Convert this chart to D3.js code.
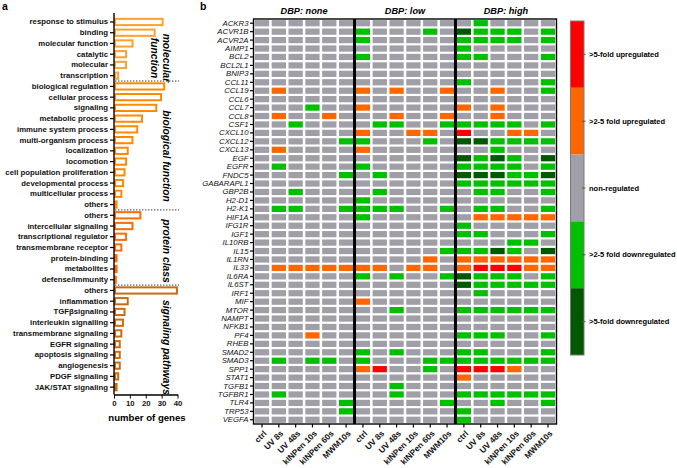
<!DOCTYPE html>
<html>
<head>
<meta charset="utf-8">
<script src="https://cdn.jsdelivr.net/npm/d3@7"></script>
<style>
body { margin: 0; background: #fff; }
svg { font-family: "Liberation Sans", Arial, sans-serif; }
</style>
</head>
<body>
<svg id="chart" width="677" height="468"></svg>
<script>
// ---- panel a: gene classes ----
const go_categories = [
   'response to stimulus', 'binding', 'molecular function', 'catalytic', 'molecular', 'transcription',
   'biological regulation', 'cellular process', 'signaling', 'metabolic process', 'immune system process',
   'multi-organism process', 'localization', 'locomotion', 'cell population proliferation',
   'developmental process', 'multicellular process', 'others',
   'others', 'intercellular signaling', 'transcriptional regulator', 'transmembrane receptor',
   'protein-binding', 'metabolites', 'defense/immunity',
   'others', 'inflammation', 'TGFβsignaling', 'interleukin signalling', 'transmembrane signaling',
   'EGFR signaling', 'apoptosis signaling', 'angiogenesis', 'PDGF signaling', 'JAK/STAT signaling'
];
const go_counts = [
   30, 25, 11, 7, 7, 2,
   31, 29, 26, 17, 14, 11, 8, 7, 6, 5, 4, 1,
   16, 11, 7, 4, 1, 1, 0.5,
   39, 8, 6, 5, 4, 3, 3, 3, 2, 1
];
const go_group_of = [
   0, 0, 0, 0, 0, 0,
   1, 1, 1, 1, 1, 1, 1, 1, 1, 1, 1, 1,
   2, 2, 2, 2, 2, 2, 2,
   3, 3, 3, 3, 3, 3, 3, 3, 3, 3
];
const go_group_labels = [['molecular', 'function'], ['biological function'], ['protein class'], ['signaling pathways']];
const go_group_colors = ['#ffa030', '#ff8a00', '#ff6c00', '#cc6a10'];
const count_ticks = [0, 10, 20, 30, 40];

// ---- panel b: regulation heat map ----
const genes = [
   'ACKR3', 'ACVR1B', 'ACVR2A', 'AIMP1', 'BCL2', 'BCL2L1', 'BNIP3', 'CCL11', 'CCL19', 'CCL6',
   'CCL7', 'CCL8', 'CSF1', 'CXCL10', 'CXCL12', 'CXCL13', 'EGF', 'EGFR', 'FNDC5', 'GABARAPL1',
   'GBP2B', 'H2-D1', 'H2-K1', 'HIF1A', 'IFG1R', 'IGF1', 'IL10RB', 'IL15', 'IL1RN', 'IL33',
   'IL6RA', 'IL6ST', 'IRF1', 'MIF', 'MTOR', 'NAMPT', 'NFKB1', 'PF4', 'RHEB', 'SMAD2',
   'SMAD3', 'SPP1', 'STAT1', 'TGFB1', 'TGFBR1', 'TLR4', 'TRP53', 'VEGFA'
];
const dbp_levels = ['none', 'low', 'high'];
const treatments = ['ctrl', 'UV 8s', 'UV 48s', 'kINPen 10s', 'kINPen 60s', 'MWM10s'];

// 2 = >5-fold up, 1 = 2-5 fold up, 0 = non-regulated, -1 = 2-5 fold down, -2 = >5-fold down
const regulation_none = [
   [0,0,0,0,0,0],[0,0,0,0,0,0],[0,0,0,0,0,0],[0,0,0,0,0,0],[0,0,0,0,0,0],
   [0,0,0,0,0,0],[0,0,0,0,0,0],[0,0,0,0,0,0],[0,1,0,0,0,0],[0,0,0,0,0,0],
   [0,0,0,-1,0,0],[0,1,0,0,1,0],[0,0,-1,0,0,0],[0,0,0,0,0,0],[0,0,0,0,0,-1],
   [0,1,0,0,0,0],[0,0,0,0,0,0],[0,-1,0,0,0,0],[0,0,0,0,0,-1],[0,0,0,0,0,0],
   [0,0,-1,0,0,0],[0,0,0,0,0,0],[0,-1,-1,0,0,-1],[0,0,0,0,0,0],[0,0,0,0,0,0],
   [0,0,0,0,0,0],[0,0,0,0,0,0],[0,0,0,0,0,0],[0,0,0,0,0,0],[0,1,1,1,1,1],
   [0,0,0,0,0,0],[0,0,0,0,0,0],[0,0,0,0,0,0],[0,0,0,0,0,0],[0,0,0,0,0,0],
   [0,0,0,0,0,0],[0,0,0,0,0,0],[0,0,0,1,0,0],[0,0,0,0,0,0],[0,0,0,0,0,0],
   [0,-1,0,-1,-1,0],[0,0,0,0,0,0],[0,0,0,0,0,0],[0,0,0,0,0,0],[0,-1,0,0,0,0],
   [0,0,0,0,0,-1],[0,0,0,0,0,-1],[0,0,0,0,0,0]
];
const regulation_low = [
   [0,0,0,0,0,0],[-1,0,0,0,-1,0],[-1,0,0,0,0,0],[0,0,0,0,0,0],[-1,0,0,0,0,0],
   [0,0,0,0,0,0],[0,0,0,0,0,0],[0,0,0,0,0,0],[1,0,1,0,0,1],[0,0,0,0,0,0],
   [1,0,0,0,0,0],[0,0,1,0,0,1],[0,-1,-1,0,0,-1],[1,0,0,1,1,0],[-1,0,0,0,-1,0],
   [1,0,0,0,0,0],[0,0,0,0,0,0],[-1,0,0,0,0,0],[0,-1,0,0,0,0],[0,0,0,0,0,0],
   [0,-1,0,0,0,0],[-1,0,0,0,0,0],[-1,-1,-1,0,0,-1],[-1,0,0,0,0,0],[0,0,0,0,0,0],
   [0,0,0,0,0,0],[0,0,0,0,0,0],[0,0,0,0,0,-1],[0,0,0,0,1,0],[1,1,0,1,1,0],
   [-1,0,-1,0,0,-1],[0,0,0,0,0,0],[0,0,0,0,0,0],[1,0,0,0,0,0],[0,0,-1,0,0,0],
   [0,0,0,0,0,0],[0,0,0,0,0,0],[0,0,0,0,0,0],[0,0,0,0,0,0],[-1,0,-1,0,0,0],
   [-1,0,0,0,-1,-1],[1,2,0,0,-1,0],[0,0,0,0,0,0],[0,0,-1,0,0,0],[0,0,-1,0,0,0],
   [0,0,0,0,0,-1],[0,0,0,0,0,0],[0,0,0,0,0,0]
];
const regulation_high = [
   [0,-1,0,0,0,0],[-2,-1,-1,-1,0,-1],[-1,-1,-1,-1,0,-1],[-1,0,0,0,0,0],[-1,-1,0,0,0,-1],
   [0,0,0,0,0,0],[0,0,0,0,0,0],[-1,0,0,0,0,-1],[0,0,1,0,0,-1],[0,0,0,0,0,0],
   [1,0,1,0,0,0],[0,0,1,0,0,0],[-1,-1,-1,-1,0,-1],[2,0,0,1,1,0],[-2,-2,-1,-1,-1,-1],
   [0,0,-1,0,0,0],[-2,-1,-2,-1,0,-2],[-1,-1,-1,-1,0,-1],[-2,-2,-2,-1,-1,-2],[-1,-1,-1,-1,-1,-1],
   [0,-1,-1,0,0,-1],[0,0,0,0,0,0],[0,-1,-1,0,0,-1],[0,1,1,1,1,1],[-1,0,0,0,0,0],
   [-1,-1,0,0,0,-1],[0,0,0,-1,-1,0],[-1,-1,-2,-1,0,-2],[1,1,1,1,1,1],[1,2,2,2,1,1],
   [-2,-1,-1,-1,0,-1],[-2,-1,-1,-1,-1,-1],[0,-1,0,0,0,0],[0,0,0,0,0,0],[-1,-1,-1,-1,-1,-1],
   [0,0,0,0,0,0],[0,0,0,0,0,0],[-1,-1,-1,0,0,-1],[0,0,0,0,0,0],[-1,-1,0,0,0,-1],
   [-1,-1,-1,-1,-1,-1],[2,2,2,1,0,0],[1,0,0,0,0,0],[0,0,0,0,0,0],[-1,-1,-1,-1,-1,-1],
   [0,0,-1,0,0,-1],[-1,0,0,0,0,0],[-1,0,0,0,0,0]
];
const regulation_levels = [2, 1, 0, -1, -2];
const regulation_labels = ['>5-fold upregulated', '>2-5 fold upregulated', 'non-regulated',
   '>2-5 fold downregulated', '>5-fold downregulated'];
const regulation_colors = ['#ff0000', '#ff6600', '#a09fa7', '#00c000', '#005800'];

const svg = d3.select('#chart');

// ================= panel a =================
function draw_panel_a() {
   const x = d3.scaleLinear().domain([0, 40]).range([114, 177.5]);
   const y = d3.scaleBand().domain(d3.range(go_categories.length)).range([16.6, 392.5]).paddingInner(0.42).paddingOuter(0.21);
   const g = svg.append('g').attr('class', 'panel-a');

   g.append('text').attr('x', 2).attr('y', 10).text('a')
      .style('font-weight', 'bold').style('font-size', '10.5px');

   // hollow bars
   g.selectAll('.bar').data(go_counts).enter().append('rect')
      .attr('class', 'bar')
      .attr('x', x(0) + 1)
      .attr('y', (d, i) => y(i))
      .attr('width', d => Math.max(0.4, x(d) - x(0)))
      .attr('height', y.bandwidth())
      .style('fill', '#fff')
      .style('stroke', (d, i) => go_group_colors[go_group_of[i]])
      .style('stroke-width', 2);

   // category axis
   const y_axis = d3.axisLeft(y).tickSize(4).tickSizeOuter(0).tickFormat(i => go_categories[i]);
   const ya = g.append('g').attr('transform', `translate(${x(0)},0)`).call(y_axis);
   ya.select('.domain').attr('d', 'M0,13V394.5').style('stroke-width', 1.4);
   ya.selectAll('.tick line').style('stroke-width', 1.2);
   ya.selectAll('text').style('font-size', '7.8px').style('font-weight', 'bold').attr('x', -6).attr('fill', '#111');

   // count axis
   const x_axis = d3.axisBottom(x).tickValues(count_ticks).tickSize(4).tickSizeOuter(0);
   const xa = g.append('g').attr('transform', 'translate(0,394.5)').call(x_axis);
   xa.select('.domain').style('stroke-width', 1.4);
   xa.selectAll('text').style('font-size', '7.8px').style('font-weight', 'bold').attr('y', 6).attr('fill', '#111');
   g.append('text').attr('x', 147).attr('y', 421).attr('text-anchor', 'middle')
      .text('number of genes').style('font-weight', 'bold').style('font-size', '9.6px');

   // dotted group separators
   const borders = [6, 18, 25];
   g.selectAll('.sep').data(borders).enter().append('line')
      .attr('x1', x(0) + 1).attr('x2', 179)
      .attr('y1', d => y(d) - y.step() * y.paddingInner() / 2)
      .attr('y2', d => y(d) - y.step() * y.paddingInner() / 2)
      .style('stroke', '#333').style('stroke-width', 1).style('stroke-dasharray', '1.4,1.6');

   // rotated group names
   const centers = [58, 156, 251, 347.5];
   go_group_labels.forEach((lines, gi) => {
      const t = g.append('text')
         .attr('transform', `translate(${lines.length > 1 ? 163 : 162.5},${centers[gi]}) rotate(90)`)
         .attr('text-anchor', 'middle')
         .style('font-weight', 'bold').style('font-style', 'italic').style('font-size', '10.3px');
      lines.forEach((l, li) => t.append('tspan').attr('x', 0).attr('dy', li === 0 ? 0 : 12).text(l));
   });
}

// ================= panel b =================
function draw_panel_b() {
   const columns = [];
   dbp_levels.forEach(lv => treatments.forEach(tr => columns.push(lv + '|' + tr)));
   const matrices = {none: regulation_none, low: regulation_low, high: regulation_high};
   const cells = [];
   genes.forEach((gene, gi) => dbp_levels.forEach(lv => treatments.forEach((tr, ti) => {
      cells.push({gene: gene, col: lv + '|' + tr, value: matrices[lv][gi][ti]});
   })));

   const left = 253.5, right = 556.5, top = 19, bottom = 424;
   const x = d3.scaleBand().domain(columns).range([left, right]).paddingInner(0.15).paddingOuter(0.08);
   const y = d3.scaleBand().domain(genes).range([top, bottom]).paddingInner(0.26).paddingOuter(0.13);
   const color = d3.scaleOrdinal().domain(regulation_levels).range(regulation_colors);
   const g = svg.append('g').attr('class', 'panel-b');

   g.append('text').attr('x', 200).attr('y', 10).text('b')
      .style('font-weight', 'bold').style('font-size', '10.5px');

   g.selectAll('.cell').data(cells).enter().append('rect')
      .attr('class', 'cell')
      .attr('x', d => x(d.col))
      .attr('y', d => y(d.gene))
      .attr('width', x.bandwidth())
      .attr('height', y.bandwidth())
      .style('fill', d => color(d.value));

   // frame and dose dividers
   g.append('rect').attr('x', left).attr('y', top).attr('width', right - left).attr('height', bottom - top)
      .style('fill', 'none').style('stroke', '#000').style('stroke-width', 1.4);
   const step = x.step();
   const divider_x = [6, 12].map(i => x(columns[i]) - step * x.paddingInner() / 2);
   g.selectAll('.divider').data(divider_x).enter().append('line')
      .attr('x1', d => d).attr('x2', d => d).attr('y1', top).attr('y2', bottom)
      .style('stroke', '#000').style('stroke-width', 3);

   // dose titles
   g.selectAll('.dose-title').data(dbp_levels).enter().append('text')
      .attr('x', (d, i) => x(columns[i * 6]) + (x(columns[i * 6 + 5]) + x.bandwidth() - x(columns[i * 6])) / 2)
      .attr('y', 14)
      .attr('text-anchor', 'middle')
      .text(d => 'DBP: ' + d)
      .style('font-weight', 'bold').style('font-style', 'italic').style('font-size', '9.2px');

   // gene axis
   const ya = g.append('g').attr('transform', `translate(${left},0)`)
      .call(d3.axisLeft(y).tickSize(3.5).tickSizeOuter(0));
   ya.select('.domain').remove();
   ya.selectAll('.tick line').style('stroke-width', 1.2);
   ya.selectAll('text').attr('x', -5).style('font-style', 'italic').style('font-size', '7.8px').attr('fill', '#111');

   // treatment axis
   const xa = g.append('g').attr('transform', `translate(0,${bottom})`)
      .call(d3.axisBottom(x).tickSize(3.5).tickSizeOuter(0).tickFormat(d => d.split('|')[1]));
   xa.select('.domain').remove();
   xa.selectAll('.tick line').style('stroke-width', 1.2);
   xa.selectAll('text')
      .attr('text-anchor', 'end')
      .attr('transform', 'translate(3,8) rotate(-45)')
      .attr('x', 0).attr('y', 0).attr('dy', '0.35em')
      .style('font-size', '8.3px').style('font-weight', 'bold').attr('fill', '#111');

   // legend colour bar
   const ly = d3.scaleBand().domain(regulation_levels).range([21, 355]);
   const lg = g.append('g').attr('class', 'legend');
   lg.selectAll('.seg').data(regulation_levels).enter().append('rect')
      .attr('x', 570.5).attr('y', d => ly(d)).attr('width', 13.5).attr('height', ly.bandwidth())
      .style('fill', d => color(d));
   lg.append('rect').attr('x', 570.5).attr('y', 21).attr('width', 13.5).attr('height', 334)
      .style('fill', 'none').style('stroke', '#7a7a7a').style('stroke-width', 1);
   lg.selectAll('.ltick').data(regulation_levels).enter().append('line')
      .attr('x1', 582).attr('x2', 585.5)
      .attr('y1', d => ly(d) + ly.bandwidth() / 2).attr('y2', d => ly(d) + ly.bandwidth() / 2)
      .style('stroke', '#555').style('stroke-width', 1);
   lg.selectAll('.llabel').data(regulation_levels).enter().append('text')
      .attr('x', 589).attr('y', d => ly(d) + ly.bandwidth() / 2).attr('dy', '0.35em')
      .text((d, i) => regulation_labels[i])
      .style('font-weight', 'bold').style('font-size', '7.5px');
}

draw_panel_a();
draw_panel_b();
</script>
</body>
</html>
